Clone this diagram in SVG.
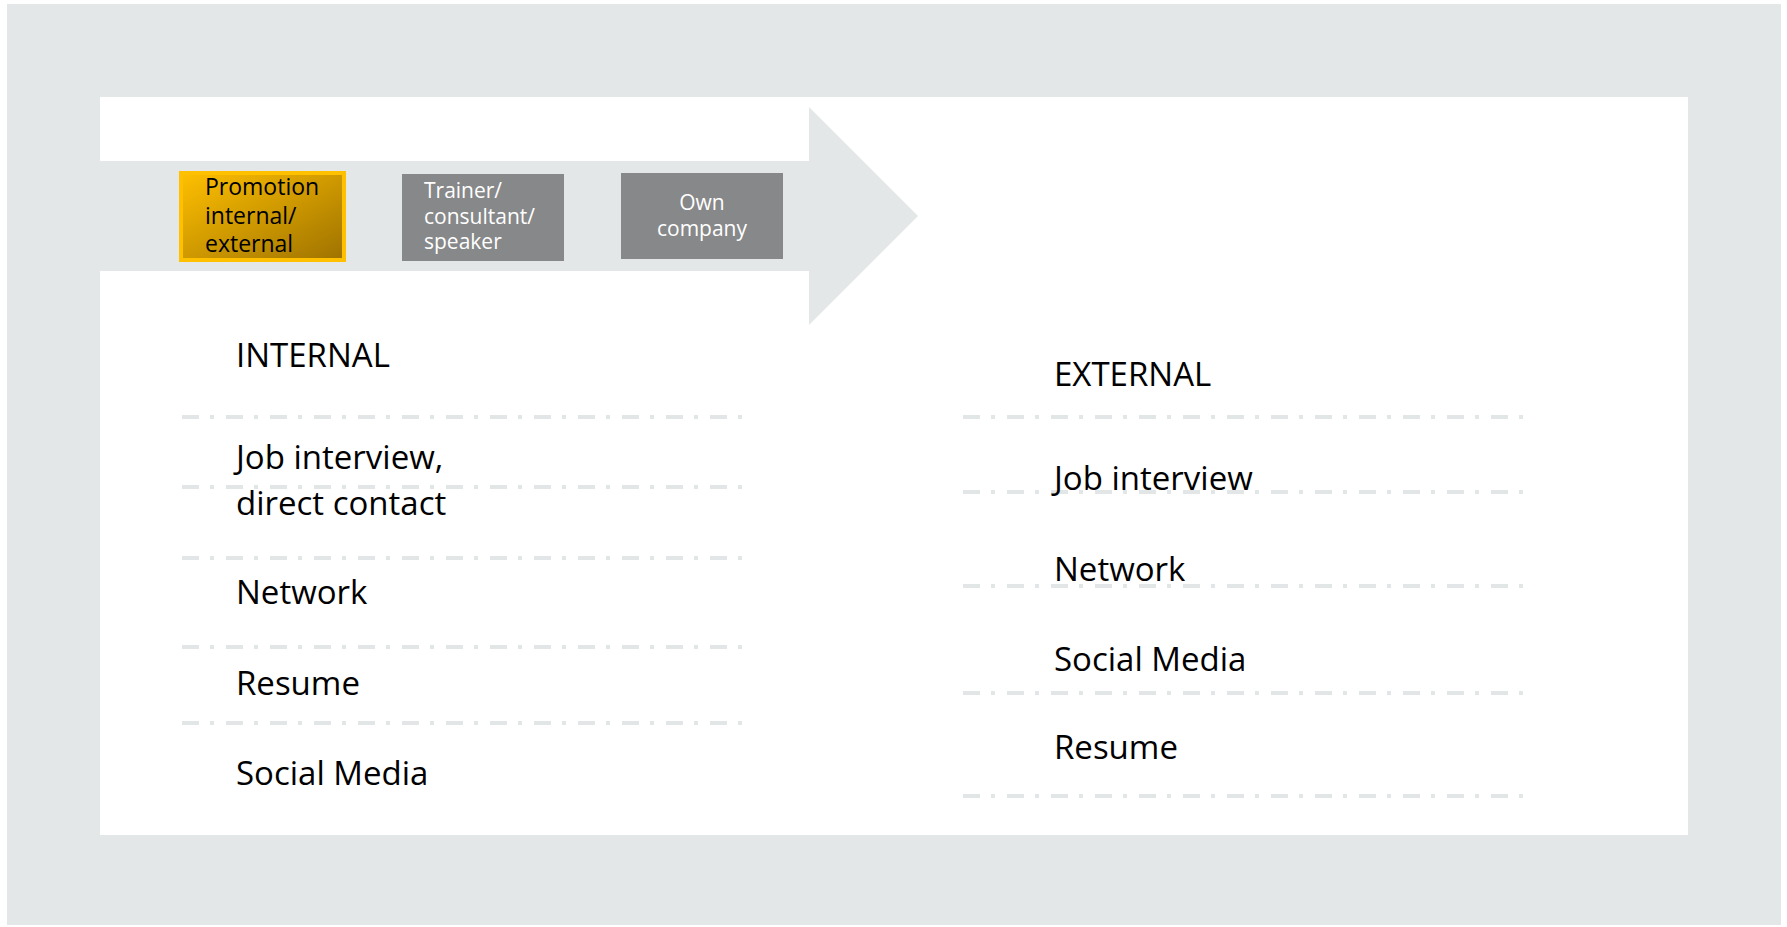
<svg xmlns="http://www.w3.org/2000/svg" width="1787" height="927" viewBox="0 0 1787 927">
  <style>
    .frame { fill: #E3E7E8; }
    .panel { fill: #FFFFFF; }
    .sep { stroke: #E3E6E7; stroke-width: 4; stroke-dasharray: 17 11 4 12; fill: none; }
    .box-grey { fill: #878889; }
    .lbl-main { font-family: "Open Sans", "Noto Sans", "Liberation Sans", sans-serif; font-size: 33px; fill: #000000; }
    .lbl-box { font-family: "Open Sans", "Noto Sans", "Liberation Sans", sans-serif; font-size: 21px; fill: #FFFFFF; }
    .lbl-promo { font-family: "Open Sans", "Noto Sans", "Liberation Sans", sans-serif; font-size: 23px; fill: #000000; }
  </style>
  <defs>
    <linearGradient id="promoFill" x1="0" y1="0" x2="1" y2="1">
      <stop offset="0" stop-color="#FFC000"/>
      <stop offset="1" stop-color="#9E7200"/>
    </linearGradient>
  </defs>

  <!-- outer frame and content panel -->
  <rect class="frame" x="7" y="4" width="1774" height="921"/>
  <rect class="panel" x="100" y="97" width="1588" height="738"/>

  <!-- career path arrow -->
  <g id="path-arrow">
    <polygon class="frame" points="100,161 809,161 809,107 918,216 809,325 809,271 100,271"/>
  </g>

  <!-- stage boxes -->
  <g id="node-promotion">
    <rect x="181" y="173" width="163" height="87" fill="url(#promoFill)" stroke="#FFC000" stroke-width="4"/>
    <text class="lbl-promo" x="205" y="195">Promotion</text>
    <text class="lbl-promo" x="205" y="223.5">internal/</text>
    <text class="lbl-promo" x="205" y="252">external</text>
  </g>
  <g id="node-trainer">
    <rect class="box-grey" x="402" y="174" width="162" height="87"/>
    <text class="lbl-box" x="424" y="198">Trainer/</text>
    <text class="lbl-box" x="424" y="224">consultant/</text>
    <text class="lbl-box" x="424" y="249">speaker</text>
  </g>
  <g id="node-own-company">
    <rect class="box-grey" x="621" y="173" width="162" height="86"/>
    <text class="lbl-box" x="702" y="210" text-anchor="middle">Own</text>
    <text class="lbl-box" x="702" y="236" text-anchor="middle">company</text>
  </g>

  <!-- separator rules -->
  <g id="separators">
    <line class="sep" x1="182" y1="417" x2="742" y2="417"/>
    <line class="sep" x1="182" y1="487" x2="742" y2="487"/>
    <line class="sep" x1="182" y1="558" x2="742" y2="558"/>
    <line class="sep" x1="182" y1="647" x2="742" y2="647"/>
    <line class="sep" x1="182" y1="723" x2="742" y2="723"/>
    <line class="sep" x1="963" y1="417" x2="1523" y2="417"/>
    <line class="sep" x1="963" y1="492" x2="1523" y2="492"/>
    <line class="sep" x1="963" y1="586" x2="1523" y2="586"/>
    <line class="sep" x1="963" y1="693" x2="1523" y2="693"/>
    <line class="sep" x1="963" y1="796" x2="1523" y2="796"/>
  </g>

  <!-- internal column -->
  <g id="col-internal">
    <text class="lbl-main" x="236" y="367">INTERNAL</text>
    <text class="lbl-main" x="236" y="469">Job interview,</text>
    <text class="lbl-main" x="236" y="515">direct contact</text>
    <text class="lbl-main" x="236" y="604">Network</text>
    <text class="lbl-main" x="236" y="695">Resume</text>
    <text class="lbl-main" x="236" y="785">Social Media</text>
  </g>

  <!-- external column -->
  <g id="col-external">
    <text class="lbl-main" x="1054" y="386">EXTERNAL</text>
    <text class="lbl-main" x="1054" y="490">Job interview</text>
    <text class="lbl-main" x="1054" y="581">Network</text>
    <text class="lbl-main" x="1054" y="671">Social Media</text>
    <text class="lbl-main" x="1054" y="759">Resume</text>
  </g>
</svg>
